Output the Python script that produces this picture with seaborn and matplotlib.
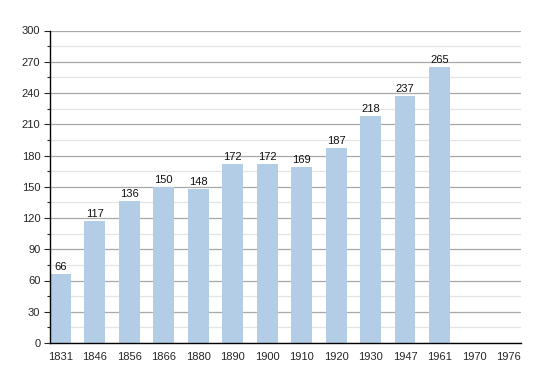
import numpy as np
import pandas as pd
import matplotlib
matplotlib.use('Agg')
import matplotlib.pyplot as plt
from matplotlib.ticker import MultipleLocator
import seaborn as sns

years = ['1831', '1846', '1856', '1866', '1880', '1890', '1900', '1910', '1920', '1930', '1947', '1961', '1970', '1976']
population = [66, 117, 136, 150, 148, 172, 172, 169, 187, 218, 237, 265, np.nan, np.nan]

sns.set_style('white')
plt.rcParams['font.family'] = ['Liberation Sans', 'DejaVu Sans']

df = pd.DataFrame({'year': years, 'population': population})
df_bars = df.dropna()

fig = plt.figure(figsize=(5.5, 3.73), dpi=100)
ax = fig.add_axes([50 / 550, 30 / 373, 471 / 550, 312.5 / 373])

sns.barplot(data=df_bars, x='year', y='population', order=years, color='#b3cde6',
			saturation=1, width=0.6, linewidth=0, ax=ax)

for i, val in enumerate(population):
	if not np.isnan(val):
		ax.text(i, val + 2, '%d' % val, ha='center', va='bottom', fontsize=8, color='#111111')

ax.set_xlim(-0.3, 13.36)
ax.set_ylim(0, 300)
ax.yaxis.set_major_locator(MultipleLocator(30))
ax.yaxis.set_minor_locator(MultipleLocator(15))
ax.set_axisbelow(True)
ax.grid(axis='y', which='major', color='#a8a8a8', lw=0.9)
ax.grid(axis='y', which='minor', color='#e4e4e4', lw=0.9)
ax.set_xlabel('')
ax.set_ylabel('')
for side in ['top', 'right']:
	ax.spines[side].set_visible(False)
ax.spines['left'].set_color('black')
ax.spines['bottom'].set_color('black')
ax.spines['left'].set_linewidth(1)
ax.spines['bottom'].set_linewidth(1)
ax.tick_params(axis='y', which='major', left=True, length=4, width=0.8, labelsize=8, pad=3)
ax.tick_params(axis='y', which='minor', left=True, length=2.5, width=0.8)
ax.tick_params(axis='x', bottom=False, labelsize=8, pad=3)

fig.savefig('out.png', dpi=100)
